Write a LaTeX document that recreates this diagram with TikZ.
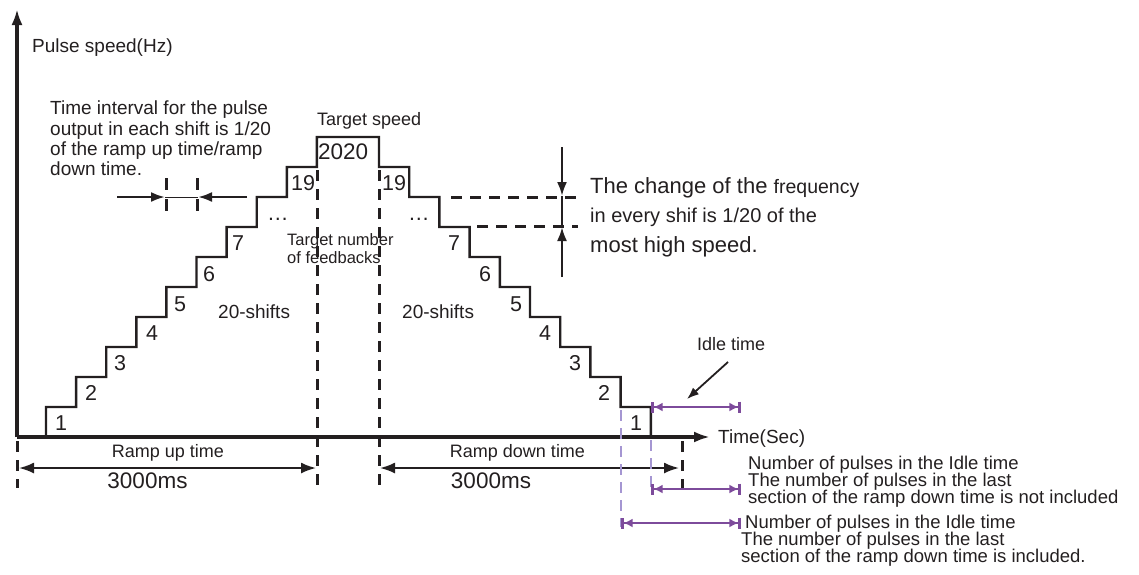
\documentclass[tikz,border=0pt]{standalone}
\usepackage{fontspec}
\setmainfont{Liberation Sans}
\usepackage{tikz}
\usetikzlibrary{arrows.meta}
\definecolor{xink}{RGB}{35,31,32}
\definecolor{xpurple}{RGB}{125,75,155}
\definecolor{xlilac}{RGB}{165,150,210}
\newcommand{\setfs}[2]{\fontsize{#1}{#2}\selectfont}

\begin{document}
\begin{tikzpicture}[x=1pt, y=-1pt,
  axis/.style={draw=xink, line width=3.4pt, -{Latex[length=16pt,width=11pt]}},
  stair/.style={draw=xink, line width=2.4pt},
  guide/.style={draw=xink, line width=3pt, dash pattern=on 11pt off 8pt},
  dim/.style={draw=xink, line width=2pt, {Latex[length=15pt,width=11pt]}-{Latex[length=15pt,width=11pt]}},
  arr/.style={draw=xink, line width=2.4pt, -{Latex[length=14pt,width=10pt]}},
  purparr/.style={draw=xpurple, line width=2.6pt,
                  {Bar[width=11pt]Latex[length=9pt,width=9pt]}-{Latex[length=9pt,width=9pt]Bar[width=11pt]}},
  lilac/.style={draw=xlilac, line width=2.6pt, dash pattern=on 11pt off 7pt},
  note/.style={text=xink, inner sep=0pt, font=\setfs{18}{20}},
  num/.style={text=xink, inner sep=0pt, font=\setfs{21.5}{21.5}}
]
\useasboundingbox (0,0) rectangle (1139,574);

  % axes
  \coordinate (o)    at (17,437);
  \coordinate (ytop) at (17,9);
  \coordinate (xend) at (710,437);
  \draw[axis] (o) -- (ytop);
  \draw[axis] (o) -- (xend);
  \node[note, anchor=base west, font=\setfs{19}{19}] (speedlbl) at (32,52) {Pulse speed(Hz)};
  \node[note, anchor=base west, font=\setfs{19}{19}] (timelbl)  at (718,443) {Time(Sec)};

  % speed staircase
  \draw[stair] (46,437)
    \foreach \k in {1,...,9} { |- ({46+30.1*\k},{407-30*(\k-1)}) }
    |- (379,137)
    \foreach \j in {1,...,9} { |- ({379+30.2*\j},{137+30*\j}) }
    -- (650.8,437);

  \foreach \n/\x/\y/\t in {u1/55/430/1, u2/85/400/2, u3/114/370/3, u4/146/340/4, u5/174/311/5,
                           u6/203/281/6, u7/232/250/7, u8/267/220/{\dots}, u9/291/190/19,
                           d9/382/190/19, d8/408/220/{\dots}, d7/448/250/7, d6/479/281/6,
                           d5/510/311/5, d4/539/340/4, d3/569/370/3, d2/598/400/2, d1/630/430/1}
    \node[num, anchor=base west] (\n) at (\x,\y) {\t};
  \node[num, anchor=base west, font=\setfs{22.5}{22.5}] (top) at (318,159) {2020};
  \node[note, anchor=base west] (tgtspd) at (317,125) {Target speed};

  % dashed guides
  \draw[guide] (317,170) -- (317,488);
  \draw[guide] (379,170) -- (379,488);
  \draw[guide] (17,441) -- (17,488);
  \draw[guide] (682,441) -- (682,488);

  \node[note, anchor=north west, align=left, font=\setfs{16.5}{18}] (tgtnum) at (287,233)
    {Target number\\of feedbacks};
  \node[note, anchor=base west, font=\setfs{19}{19}] (shup) at (218,318) {20-shifts};
  \node[note, anchor=base west, font=\setfs{19}{19}] (shdn) at (402,318) {20-shifts};

  % time interval of one shift
  \node[note, anchor=north west, align=left, font=\setfs{19}{20.3}] (intlbl) at (50,101)
    {Time interval for the pulse\\output in each shift is 1/20\\of the ramp up time/ramp\\down time.};
  \coordinate (ia) at (165,197);
  \coordinate (ib) at (198,197);
  \draw[guide, dash pattern=on 12pt off 9pt] (166,178) -- (166,216);
  \draw[guide, dash pattern=on 12pt off 9pt] (197,178) -- (197,216);
  \draw[arr] (117,197) -- (ia);
  \draw[xink, line width=1pt] (ia) -- (ib);
  \draw[arr] (247,197) -- (ib);

  % frequency change of one shift
  \draw[guide] (451,197) -- (578,197);
  \draw[guide] (477,226) -- (578,226);
  \coordinate (fa) at (562,196);
  \coordinate (fb) at (562,227);
  \draw[xink, line width=1.8pt] (fa) -- (fb);
  \draw[arr] (562,147) -- (fa);
  \draw[arr] (562,277) -- (fb);
  \node[note, anchor=north west, align=left, font=\setfs{22}{29.5}] (chglbl) at (590,177)
    {The change of the {\setfs{19.5}{29.5}frequency}\\{\setfs{20}{29.5}in every shif is 1/20 of the}\\most high speed.};

  % ramp times
  \node[note, anchor=base] (rulbl) at (168,457) {Ramp up time};
  \draw[dim] (19,468) -- (316,468);
  \node[note, anchor=base, font=\setfs{22.5}{22.5}] (ruval) at (147.5,488) {3000ms};
  \node[note, anchor=base] (rdlbl) at (517.5,457) {Ramp down time};
  \draw[dim] (380,468) -- (679,468);
  \node[note, anchor=base, font=\setfs{22.5}{22.5}] (rdval) at (491,488) {3000ms};

  % idle time
  \node[note, anchor=base west] (idlelbl) at (697,350) {Idle time};
  \coordinate (idletail) at (728,362);
  \coordinate (idletip)  at (687,399);
  \draw[arr, line width=1.8pt, -{Latex[length=12pt,width=9pt]}] (idletail) -- (idletip);

  \draw[lilac] (621,410) -- (621,527);
  \draw[lilac] (651,440) -- (651,494);
  \draw[purparr] (651,407) -- (741,407);
  \draw[purparr] (651,489) -- (741,489);
  \draw[purparr] (621,523) -- (741,523);

  \node[note, anchor=north west, align=left, font=\setfs{18.5}{17.3}] (idlenot) at (748,455.5)
    {Number of pulses in the Idle time\\The number of pulses in the last\\section of the ramp down time is not included};
  \node[note, anchor=north west, align=left, font=\setfs{18.5}{17.3}] (idleinc) at (741,514.5)
    {\hspace*{4pt}Number of pulses in the Idle time\\The number of pulses in the last\\section of the ramp down time is included.};
\end{tikzpicture}
\end{document}
